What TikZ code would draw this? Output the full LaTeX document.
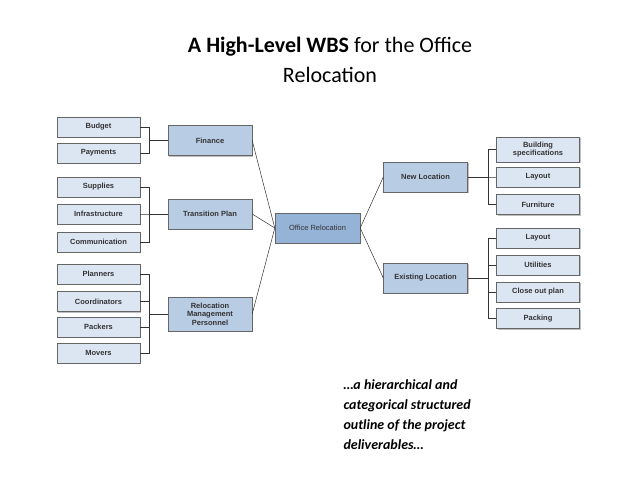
\documentclass[tikz,border=0pt]{standalone}
\usepackage{fontspec}
\setmainfont{Carlito}
\newfontfamily\boxfont{Liberation Sans}
\usetikzlibrary{shadows}
\definecolor{leafblue}{HTML}{DCE6F2}
\definecolor{midblue}{HTML}{B8CCE4}
\definecolor{rootblue}{HTML}{95B3D7}
\tikzset{
  leaf/.style={draw=gray!80!black, fill=leafblue, minimum width=83pt, minimum height=20pt,
    drop shadow={shadow xshift=1pt, shadow yshift=-1pt, opacity=.5},
    font=\boxfont\bfseries\fontsize{7.5}{8.5}\selectfont, text=black!80, align=center, inner sep=1pt},
  mid/.style={leaf, fill=midblue, minimum width=84pt, minimum height=30pt},
  root/.style={leaf, fill=rootblue, font=\boxfont\fontsize{7.5}{8.5}\selectfont, minimum width=85pt, minimum height=30pt},
  link/.style={gray!40!black, line width=.8pt},
}
\begin{document}
\begin{tikzpicture}[x=1pt, y=-1pt]
    \useasboundingbox (0,0) rectangle (638,479);
    % title
    \node (title) at (330,60) [align=center, font=\fontsize{22}{30}\selectfont]
        {\textbf{A High-Level WBS} for the Office\\Relocation};
    % left side
    \node[leaf] (budget) at (98.5,127) {Budget};
    \node[leaf] (payments) at (98.5,153) {Payments};
    \node[leaf] (supplies) at (98.5,187) {Supplies};
    \node[leaf] (infra) at (98.5,214) {Infrastructure};
    \node[leaf] (comm) at (98.5,242) {Communication};
    \node[leaf] (planners) at (98.5,274) {Planners};
    \node[leaf] (coord) at (98.5,301.5) {Coordinators};
    \node[leaf] (packers) at (98.5,327) {Packers};
    \node[leaf] (movers) at (98.5,353) {Movers};
    \node[mid] (finance) at (210,140.5) {Finance};
    \node[mid] (transition) at (210,214) {Transition Plan};
    \node[mid, minimum height=34pt] (personnel) at (210,314) {Relocation\\Management\\Personnel};
    \node[root] (office) at (317.5,228) {Office Relocation};
    % right side
    \node[mid] (newloc) at (425.5,177) {New Location};
    \node[mid] (existloc) at (425.5,278) {Existing Location};
    \node[leaf, minimum height=25pt] (building) at (538,149.5) {Building\\specifications};
    \node[leaf] (layoutA) at (538,177) {Layout};
    \node[leaf] (furniture) at (538,204.5) {Furniture};
    \node[leaf] (layoutB) at (538,238) {Layout};
    \node[leaf] (utilities) at (538,265) {Utilities};
    \node[leaf] (closeout) at (538,292) {Close out plan};
    \node[leaf] (packing) at (538,318.5) {Packing};
    % brackets
    \coordinate (lbar) at (149,0);
    \coordinate (rbar) at (488,0);
    \foreach \c in {budget,payments} \draw[link] (\c.east) -| (lbar |- finance) -- (finance.west);
    \foreach \c in {supplies,infra,comm} \draw[link] (\c.east) -| (lbar |- transition) -- (transition.west);
    \foreach \c in {planners,coord,packers,movers} \draw[link] (\c.east) -| (lbar |- personnel) -- (personnel.west);
    \foreach \c in {building,layoutA,furniture} \draw[link] (\c.west) -| (rbar |- newloc) -- (newloc.east);
    \foreach \c in {layoutB,utilities,closeout,packing} \draw[link] (\c.west) -| (rbar |- existloc) -- (existloc.east);
    % spokes
    \foreach \c in {finance,transition,personnel} \draw[gray!40!black, line width=.5pt] (\c.east) -- (office.west);
    \foreach \c in {newloc,existloc} \draw[gray!40!black, line width=.5pt] (office.east) -- (\c.west);
    % caption
    \node (note) at (340,415) [anchor=west, align=left, font=\bfseries\itshape\fontsize{14}{20}\selectfont]
        {…a hierarchical and\\categorical structured\\outline of the project\\deliverables…};
\end{tikzpicture}
\end{document}
